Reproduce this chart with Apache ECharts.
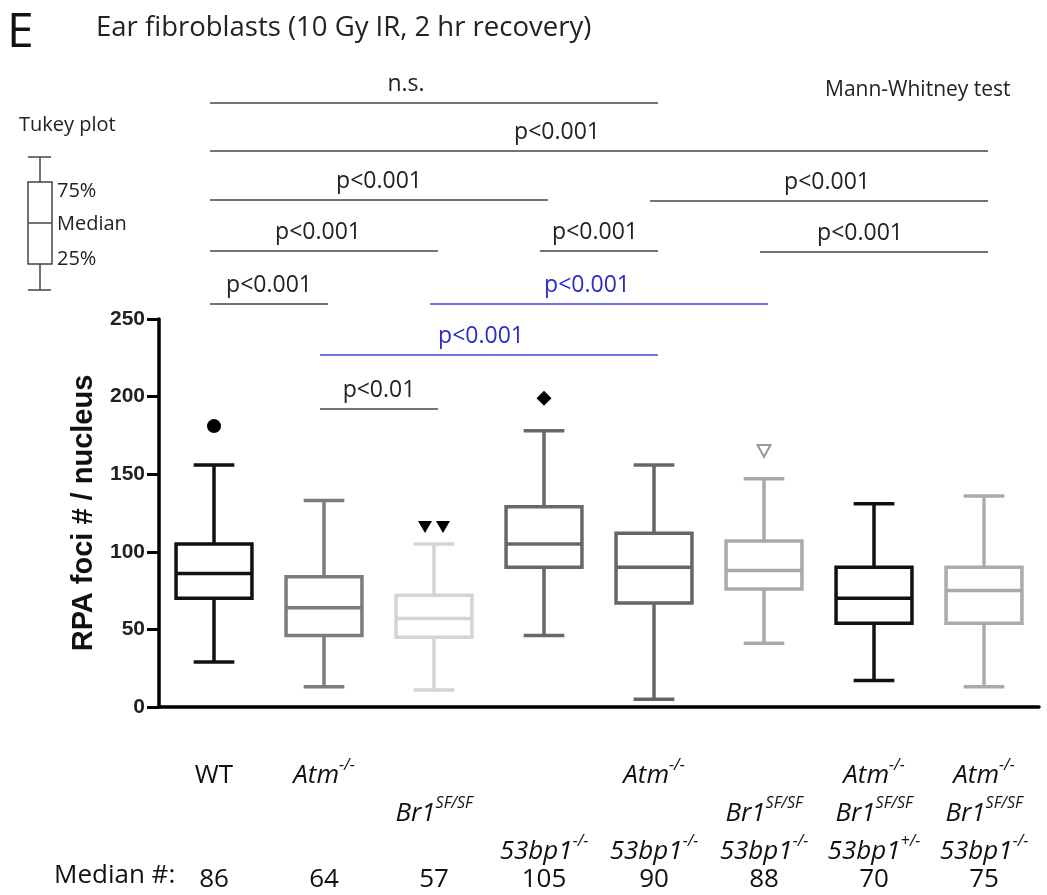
<!DOCTYPE html>
<html>
<head>
<meta charset="utf-8">
<script src="https://cdn.jsdelivr.net/npm/echarts@6/dist/echarts.min.js"></script>
<style>
    html, body { margin: 0; padding: 0; background: #fff; }
    #chart { width: 1047px; height: 895px; }
</style>
</head>
<body>
<div id="chart"></div>
<script>
// genotypes, one box per group
var groups = ['WT', 'Atm', 'Br1', '53bp1', 'Atm 53bp1', 'Br1 53bp1', 'Atm Br1 53bp1+/-', 'Atm Br1 53bp1-/-'];
// three label rows under each tick (empty = blank row)
var labelRows = [
    ['{n|WT}', '', ''],
    ['{i|Atm}{s|-/-}', '', ''],
    ['', '{i|Br1}{s|SF/SF}', ''],
    ['', '', '{i|53bp1}{s|-/-}'],
    ['{i|Atm}{s|-/-}', '', '{i|53bp1}{s|-/-}'],
    ['', '{i|Br1}{s|SF/SF}', '{i|53bp1}{s|-/-}'],
    ['{i|Atm}{s|-/-}', '{i|Br1}{s|SF/SF}', '{i|53bp1}{s|+/-}'],
    ['{i|Atm}{s|-/-}', '{i|Br1}{s|SF/SF}', '{i|53bp1}{s|-/-}']
];

// Tukey box values (RPA foci / nucleus)
var whiskerLow  = [29, 13, 11, 46, 5, 41, 17, 13];
var q1          = [70, 46, 45, 90, 67, 76, 54, 54];
var medians     = [86, 64, 57, 105, 90, 88, 70, 75];
var q3          = [105, 84, 72, 129, 112, 107, 90, 90];
var whiskerHigh = [156, 133, 105, 178, 156, 147, 131, 136];

// outliers [group, value]
var outliers = [[0, 181], [2, 116], [2, 116], [3, 199], [5, 165]];

// Mann-Whitney comparisons [from, to, text]
var comparisons = [
    [0, 4, 'n.s.'],
    [0, 7, 'p<0.001'],
    [0, 3, 'p<0.001'],
    [4, 7, 'p<0.001'],
    [0, 2, 'p<0.001'],
    [3, 4, 'p<0.001'],
    [5, 7, 'p<0.001'],
    [0, 1, 'p<0.001'],
    [2, 5, 'p<0.001'],
    [1, 4, 'p<0.001'],
    [1, 2, 'p<0.01']
];

// ---- styles / layout ----
var boxColors = ['#111111', '#7c7c7c', '#d4d4d4', '#686868', '#666666', '#a9a9a9', '#111111', '#ababab'];
var outlierMarks = [
    {symbol: 'circle', symbolSize: 14, itemStyle: {color: '#000', opacity: 1}},
    {symbol: 'triangle', symbolSize: [14, 12], symbolRotate: 180, symbolOffset: [-9, 0], itemStyle: {color: '#000', opacity: 1}},
    {symbol: 'triangle', symbolSize: [14, 12], symbolRotate: 180, symbolOffset: [9, 0], itemStyle: {color: '#000', opacity: 1}},
    {symbol: 'diamond', symbolSize: [15, 15], itemStyle: {color: '#000', opacity: 1}},
    {symbol: 'triangle', symbolSize: [13, 12], symbolRotate: 180, itemStyle: {color: '#fff', borderColor: '#999', borderWidth: 2, opacity: 1}}
];
var bracketY  = [103, 151, 200, 201, 251, 251, 252, 304, 304, 355, 409];
var bracketDx = [-28, -42, 0, 8, -6, -4, -14, 0, -12, -8, 0];
var bracketBlue = [false, false, false, false, false, false, false, false, true, true, false];

var FONT = 'Open Sans';

var chart = echarts.init(document.getElementById('chart'));

function drawBox(params, api) {
    var i = api.value(0);
    var x = api.coord([i, 0])[0];
    var band = api.size([1, 0])[0];
    var bw = band * 0.69, cw = band * 0.37;
    var yLow = api.coord([i, api.value(1)])[1];
    var yQ1 = api.coord([i, api.value(2)])[1];
    var yMed = api.coord([i, api.value(3)])[1];
    var yQ3 = api.coord([i, api.value(4)])[1];
    var yHigh = api.coord([i, api.value(5)])[1];
    var st = {stroke: boxColors[i], lineWidth: 3.5, fill: 'none'};
    return {
        type: 'group',
        children: [
            {type: 'rect', shape: {x: x - bw / 2, y: yQ3, width: bw, height: yQ1 - yQ3}, style: st},
            {type: 'line', shape: {x1: x - bw / 2, y1: yMed, x2: x + bw / 2, y2: yMed}, style: st},
            {type: 'line', shape: {x1: x, y1: yQ3, x2: x, y2: yHigh}, style: st},
            {type: 'line', shape: {x1: x, y1: yQ1, x2: x, y2: yLow}, style: st},
            {type: 'line', shape: {x1: x - cw / 2, y1: yHigh, x2: x + cw / 2, y2: yHigh}, style: st},
            {type: 'line', shape: {x1: x - cw / 2, y1: yLow, x2: x + cw / 2, y2: yLow}, style: st}
        ]
    };
}

function drawBracket(params, api) {
    var k = params.dataIndex;
    var x1 = api.coord([api.value(0), 0])[0] - 4;
    var x2 = api.coord([api.value(1), 0])[0] + 4;
    var y = bracketY[k];
    var lineColor = bracketBlue[k] ? '#4646d2' : '#444';
    var textColor = bracketBlue[k] ? '#2c2cc8' : '#222';
    return {
        type: 'group',
        children: [
            {type: 'line', shape: {x1: x1, y1: y, x2: x2, y2: y}, style: {stroke: lineColor, lineWidth: 1.6}},
            {type: 'text', x: (x1 + x2) / 2 + bracketDx[k], y: y - 19,
                style: {text: comparisons[k][2], fill: textColor, font: '23px "' + FONT + '"',
                    textAlign: 'center', textVerticalAlign: 'middle'}}
        ]
    };
}

var boxData = groups.map(function (g, i) {
    return [i, whiskerLow[i], q1[i], medians[i], q3[i], whiskerHigh[i]];
});
var outlierData = outliers.map(function (o, k) {
    return Object.assign({value: o}, outlierMarks[k]);
});
var bracketData = comparisons.map(function (c, k) {
    return [c[0], c[1], k];
});

var legendStyle = {stroke: '#444', lineWidth: 1.5};
var option = {
    animation: false,
    grid: {left: 159, right: 8, top: 319, bottom: 188},
    xAxis: {
        type: 'category',
        data: groups,
        axisLine: {lineStyle: {color: '#000', width: 3.5}},
        axisTick: {alignWithLabel: true, length: 11, lineStyle: {color: '#000', width: 3}},
        axisLabel: {
            interval: 0,
            margin: 50,
            formatter: function (v, idx) {
                var rows = labelRows[idx].map(function (r) { return r || '{e| }'; });
                return rows.join('\n') + '\n{m|' + medians[idx] + '}';
            },
            rich: {
                n: {fontFamily: FONT, fontSize: 26, lineHeight: 38, color: '#111'},
                i: {fontFamily: FONT, fontStyle: 'italic', fontSize: 26, lineHeight: 38, color: '#111'},
                s: {fontFamily: FONT, fontStyle: 'italic', fontSize: 16, lineHeight: 22, verticalAlign: 'top', color: '#111'},
                e: {fontFamily: FONT, fontSize: 26, lineHeight: 38},
                m: {fontFamily: FONT, fontSize: 26, lineHeight: 18, color: '#111'}
            }
        },
        splitLine: {show: false}
    },
    yAxis: {
        type: 'value',
        min: 0,
        max: 250,
        interval: 50,
        name: 'RPA foci # / nucleus',
        nameLocation: 'middle',
        nameGap: 61,
        nameTextStyle: {fontFamily: 'Liberation Sans', fontWeight: 'bold', fontSize: 29, color: '#111'},
        axisLine: {show: true, lineStyle: {color: '#000', width: 3.5}},
        axisTick: {show: true, length: 12, lineStyle: {color: '#000', width: 3}},
        axisLabel: {fontFamily: 'Liberation Sans', fontWeight: 'bold', fontSize: 21, color: '#222', margin: 14},
        splitLine: {show: false}
    },
    series: [
        {type: 'custom', renderItem: drawBox, data: boxData, encode: {x: 0, y: [1, 2, 3, 4, 5]}, z: 3},
        {type: 'scatter', data: outlierData, z: 4},
        {type: 'custom', renderItem: drawBracket, data: bracketData, encode: {x: [0, 1]}, clip: false, z: 2}
    ],
    graphic: [
        {type: 'text', left: 7, top: 9, style: {text: 'E', font: '48px "' + FONT + '"', fill: '#111'}},
        {type: 'text', left: 96, top: 14, style: {text: 'Ear fibroblasts (10 Gy IR, 2 hr recovery)', font: '27.5px "' + FONT + '"', fill: '#222'}},
        {type: 'text', left: 825, top: 80, style: {text: 'Mann-Whitney test', font: '21px "' + FONT + '"', fill: '#222'}},
        {type: 'text', left: 19, top: 115, style: {text: 'Tukey plot', font: '20px "' + FONT + '"', fill: '#222'}},
        {type: 'line', shape: {x1: 28, y1: 157, x2: 51, y2: 157}, style: legendStyle},
        {type: 'line', shape: {x1: 40, y1: 157, x2: 40, y2: 182}, style: legendStyle},
        {type: 'rect', shape: {x: 28, y: 182, width: 24, height: 82}, style: {stroke: '#444', lineWidth: 1.5, fill: 'none'}},
        {type: 'line', shape: {x1: 28, y1: 223, x2: 52, y2: 223}, style: legendStyle},
        {type: 'line', shape: {x1: 40, y1: 264, x2: 40, y2: 290}, style: legendStyle},
        {type: 'line', shape: {x1: 28, y1: 290, x2: 51, y2: 290}, style: legendStyle},
        {type: 'text', left: 57, top: 181, style: {text: '75%', font: '20px "' + FONT + '"', fill: '#222'}},
        {type: 'text', left: 57, top: 214, style: {text: 'Median', font: '20px "' + FONT + '"', fill: '#222'}},
        {type: 'text', left: 57, top: 249, style: {text: '25%', font: '20px "' + FONT + '"', fill: '#222'}},
        {type: 'text', left: 54, top: 863, style: {text: 'Median #:', font: '26px "' + FONT + '"', fill: '#111'}}
    ]
};
chart.setOption(option);
</script>
</body>
</html>
